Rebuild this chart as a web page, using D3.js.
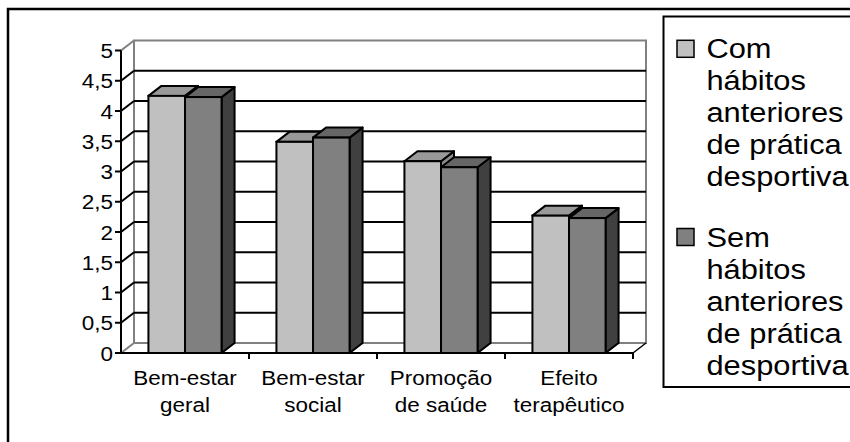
<!DOCTYPE html>
<html>
<head>
<meta charset="utf-8">
<script src="https://cdn.jsdelivr.net/npm/d3@7"></script>
<style>
  html, body { margin: 0; padding: 0; background: #fff; }
  svg { display: block; }
  text { font-family: "Liberation Sans", Arial, sans-serif; fill: #000; }
</style>
</head>
<body>
<svg id="chart" width="850" height="442"></svg>
<script>
// ---- Data ----
const categories = ["Bem-estar geral", "Bem-estar social", "Promoção de saúde", "Efeito terapêutico"];
const categoryLabelLines = [["Bem-estar", "geral"], ["Bem-estar", "social"], ["Promoção", "de saúde"], ["Efeito", "terapêutico"]];
const seriesNames = ["Com hábitos anteriores de prática desportiva", "Sem hábitos anteriores de prática desportiva"];
const legendLines = [["Com", "hábitos", "anteriores", "de prática", "desportiva"],
                     ["Sem", "hábitos", "anteriores", "de prática", "desportiva"]];
const comValues = [4.25, 3.49, 3.17, 2.27];
const semValues = [4.23, 3.56, 3.07, 2.23];
const yTicks = [0, 0.5, 1, 1.5, 2, 2.5, 3, 3.5, 4, 4.5, 5];
const yTickLabels = ["0", "0,5", "1", "1,5", "2", "2,5", "3", "3,5", "4", "4,5", "5"];

(function () {
// ---- Styles ----
const frontFill = ["#C0C0C0", "#808080"];
const topFill = ["#999999", "#666666"];
const sideFill = ["#8a8a8a", "#404040"];
const wallGray = "#808080";

const svg = d3.select("#chart");
svg.append("rect").attr("width", 850).attr("height", 442).attr("fill", "#fff");

// outer frame (clipped at right/bottom)
svg.append("rect").attr("x", 8).attr("y", 9).attr("width", 900).attr("height", 500)
  .attr("fill", "none").attr("stroke", "#000").attr("stroke-width", 2.5);

// geometry
const pLeft = 121, pRight = 633, pBottom = 353, pTop = 50.5;
const dx = 13, dy = 10;

const y = d3.scaleLinear().domain([0, 5]).range([pBottom, pTop]);
const x0 = d3.scaleBand().domain(categories).range([pLeft, pRight]).paddingInner(0).paddingOuter(0);
const x1 = d3.scaleBand().domain(seriesNames).range([0, x0.bandwidth()]).paddingInner(0).paddingOuter(0.75);

const g = svg.append("g");

// back wall
g.append("rect")
  .attr("x", pLeft + dx).attr("y", y(5) - dy)
  .attr("width", pRight - pLeft).attr("height", y(0) - y(5))
  .attr("fill", "#fff").attr("stroke", wallGray).attr("stroke-width", 2);

// gridlines on back wall + side diagonals
const gridTicks = yTicks.filter(t => t > 0 && t < 5);
g.selectAll("line.grid").data(gridTicks).enter().append("line")
  .attr("x1", pLeft + dx).attr("x2", pRight + dx)
  .attr("y1", d => y(d) - dy).attr("y2", d => y(d) - dy)
  .attr("stroke", "#000").attr("stroke-width", 2);
g.selectAll("line.diag").data(gridTicks).enter().append("line")
  .attr("x1", pLeft).attr("x2", pLeft + dx)
  .attr("y1", d => y(d)).attr("y2", d => y(d) - dy)
  .attr("stroke", "#000").attr("stroke-width", 2);
// side wall top & floor diagonals (gray)
[5, 0].forEach(t => {
  g.append("line").attr("x1", pLeft).attr("x2", pLeft + dx)
    .attr("y1", y(t)).attr("y2", y(t) - dy)
    .attr("stroke", wallGray).attr("stroke-width", 2);
});
// floor right diagonal
g.append("line").attr("x1", pRight).attr("x2", pRight + dx)
  .attr("y1", y(0)).attr("y2", y(0) - dy)
  .attr("stroke", "#000").attr("stroke-width", 1.5);

// bars
const seriesData = [comValues, semValues];
categories.forEach((c, ci) => {
  seriesNames.forEach((s, si) => {
    const v = seriesData[si][ci];
    const bx = x0(c) + x1(s);
    const bw = x1.bandwidth();
    const by = y(v);
    const bb = y(0);
    const bg = g.append("g");
    bg.append("polygon")
      .attr("points", [[bx + bw, by], [bx + bw + dx, by - dy], [bx + bw + dx, bb - dy], [bx + bw, bb]].map(p => p.join(",")).join(" "))
      .attr("fill", sideFill[si]).attr("stroke", "#000").attr("stroke-width", 2).attr("stroke-linejoin", "round");
    bg.append("polygon")
      .attr("points", [[bx, by], [bx + dx, by - dy], [bx + bw + dx, by - dy], [bx + bw, by]].map(p => p.join(",")).join(" "))
      .attr("fill", topFill[si]).attr("stroke", "#000").attr("stroke-width", 2).attr("stroke-linejoin", "round");
    bg.append("rect")
      .attr("x", bx).attr("y", by).attr("width", bw).attr("height", bb - by)
      .attr("fill", frontFill[si]).attr("stroke", "#000").attr("stroke-width", 2);
  });
});

// axes lines
g.append("line").attr("x1", pLeft).attr("x2", pLeft).attr("y1", y(5)).attr("y2", y(0))
  .attr("stroke", "#000").attr("stroke-width", 2);
g.append("line").attr("x1", pLeft).attr("x2", pRight).attr("y1", y(0)).attr("y2", y(0))
  .attr("stroke", "#000").attr("stroke-width", 2);

// y ticks and labels
const fs = 21, sx = 1.07;
yTicks.forEach((t, i) => {
  g.append("line").attr("x1", pLeft - 6).attr("x2", pLeft).attr("y1", y(t)).attr("y2", y(t))
    .attr("stroke", "#000").attr("stroke-width", 2);
  g.append("text")
    .attr("transform", `translate(${pLeft - 8},${y(t) + 7.5}) scale(${sx},1)`)
    .attr("text-anchor", "end").attr("font-size", fs)
    .text(yTickLabels[i]);
});

// x ticks at category boundaries
const boundaries = categories.map(c => x0(c) + x0.bandwidth());
g.selectAll("line.xt").data(boundaries).enter().append("line")
  .attr("x1", d => d).attr("x2", d => d).attr("y1", y(0)).attr("y2", y(0) + 6)
  .attr("stroke", "#000").attr("stroke-width", 2);

// x labels
categories.forEach((c, ci) => {
  const cx = x0(c) + x0.bandwidth() / 2;
  categoryLabelLines[ci].forEach((line, li) => {
    g.append("text")
      .attr("transform", `translate(${cx},${385 + li * 26.5}) scale(${sx},1)`)
      .attr("text-anchor", "middle").attr("font-size", fs)
      .text(line);
  });
});

// legend
const lg = svg.append("g");
lg.append("rect").attr("x", 663.5).attr("y", 16.5).attr("width", 300).attr("height", 370.5)
  .attr("fill", "#fff").attr("stroke", "#000").attr("stroke-width", 2);
const legendBase = [58.3, 246.5];
const lfs = 28, lsx = 1.1;
seriesNames.forEach((s, si) => {
  const b = legendBase[si];
  lg.append("rect").attr("x", 677).attr("y", b - 18).attr("width", 17).attr("height", 17)
    .attr("fill", frontFill[si]).attr("stroke", "#000").attr("stroke-width", 1.5);
  legendLines[si].forEach((line, li) => {
    lg.append("text")
      .attr("transform", `translate(706.5,${b + li * 32}) scale(${lsx},1)`)
      .attr("font-size", lfs)
      .text(line);
  });
});
})();
</script>
</body>
</html>
